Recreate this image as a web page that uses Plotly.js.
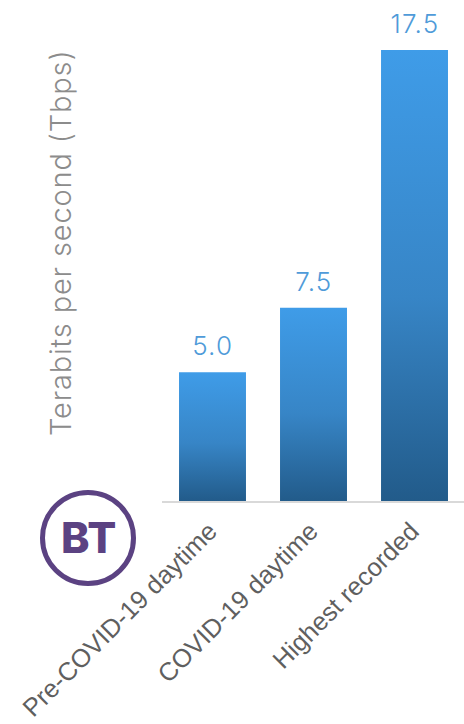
<!DOCTYPE html>
<html>
<head>
<meta charset="utf-8">
<script src="https://cdn.plot.ly/plotly-3.0.1.min.js"></script>
<style>
html, body { margin: 0; padding: 0; background: #fff; }
#chart { width: 464px; height: 724px; }
/* Wide tracking on the light labels; the logo stays tight */
.annotation text { letter-spacing: 1.2px; }
.annotation[data-index="3"] text { letter-spacing: 0; }
.annotation[data-index="4"] text { letter-spacing: 0.85px; }
</style>
</head>
<body>
<div id="chart"></div>
<script>
// Network capacity figures, in terabits per second
const categories = ['Pre-COVID-19 daytime', 'COVID-19 daytime', 'Highest recorded'];
const capacityTbps = [5.0, 7.5, 17.5];
const axisTitle = 'Terabits per second (Tbps)';
const logoText = 'BT';

const labelFont = '"Inter", "Open Sans", sans-serif';
const tickFont = '"Liberation Sans", Arial, sans-serif';
const purple = '#5b4282';

// Pixel layout of the page
const plotLeft = 162, plotBottom = 501, plotW = 464 - plotLeft;
const toPaperX = px => (px - plotLeft) / plotW;
const toPaperY = py => (plotBottom - py) / plotBottom;

const valueLabels = categories.map((c, i) => ({
  x: c,
  y: capacityTbps[i],
  xref: 'x',
  yref: 'y',
  text: capacityTbps[i].toFixed(1),
  showarrow: false,
  xanchor: 'center',
  yanchor: 'bottom',
  yshift: 9,
  font: { family: labelFont, size: 26, color: '#4f9bd9', weight: 300 }
}));

const logoLabel = {
  x: toPaperX(88.5), y: toPaperY(537),
  xref: 'paper', yref: 'paper',
  xanchor: 'center', yanchor: 'middle',
  text: logoText,
  showarrow: false,
  font: { family: labelFont, size: 43, color: purple, weight: 800 }
};

const titleLabel = {
  x: toPaperX(60), y: toPaperY(243),
  xref: 'paper', yref: 'paper',
  xanchor: 'center', yanchor: 'middle',
  textangle: -90,
  text: axisTitle,
  showarrow: false,
  font: { family: labelFont, size: 29, color: '#8c8c8c', weight: 300 }
};

const data = [{
  type: 'bar',
  x: categories,
  y: capacityTbps,
  width: 0.663,
  marker: { color: '#3278ae', line: { width: 0 } },
  hoverinfo: 'x+y'
}];

const logoR = 45.5;
const layout = {
  width: 464,
  height: 724,
  margin: { l: plotLeft, r: 0, t: 0, b: 724 - plotBottom, pad: 0 },
  paper_bgcolor: '#fff',
  plot_bgcolor: '#fff',
  showlegend: false,
  xaxis: {
    type: 'category',
    range: [-0.5, 2.49],
    tickangle: -45,
    ticks: '',
    ticklabelstandoff: 3,
    ticklabelshift: -3,
    showgrid: false,
    zeroline: false,
    showline: true,
    linecolor: '#d9d9d9',
    linewidth: 2,
    tickfont: { family: tickFont, size: 25.5, color: '#5f5f5f' }
  },
  yaxis: {
    range: [0, 19.44],
    showticklabels: false,
    ticks: '',
    showgrid: false,
    zeroline: false,
    showline: false
  },
  annotations: valueLabels.concat([logoLabel, titleLabel]),
  shapes: [{
    type: 'circle',
    xref: 'paper',
    yref: 'paper',
    xsizemode: 'pixel',
    ysizemode: 'pixel',
    xanchor: toPaperX(88),
    yanchor: toPaperY(538),
    x0: -logoR, x1: logoR,
    y0: -logoR, y1: logoR,
    line: { color: purple, width: 5 },
    fillcolor: 'rgba(0,0,0,0)'
  }]
};

// Paint the bars with a vertical gradient once Plotly has drawn them
function applyBarGradient(gd) {
  const svg = gd.querySelector('svg.main-svg');
  const ns = 'http://www.w3.org/2000/svg';
  if (!svg.querySelector('#barFade')) {
    const grad = document.createElementNS(ns, 'linearGradient');
    grad.setAttribute('id', 'barFade');
    grad.setAttribute('x1', '0'); grad.setAttribute('y1', '0');
    grad.setAttribute('x2', '0'); grad.setAttribute('y2', '1');
    [['0%', '#3f9ce8'], ['55%', '#3785c6'], ['100%', '#225b8a']].forEach(([o, c]) => {
      const stop = document.createElementNS(ns, 'stop');
      stop.setAttribute('offset', o);
      stop.setAttribute('stop-color', c);
      grad.appendChild(stop);
    });
    svg.querySelector('defs').appendChild(grad);
  }
  gd.querySelectorAll('.barlayer .point path').forEach(p => {
    p.style.fill = 'url(#barFade)';
  });
}

Plotly.newPlot('chart', data, layout, { displayModeBar: false, staticPlot: true }).then(gd => {
  applyBarGradient(gd);
  gd.on('plotly_afterplot', () => applyBarGradient(gd));
});
</script>
</body>
</html>
